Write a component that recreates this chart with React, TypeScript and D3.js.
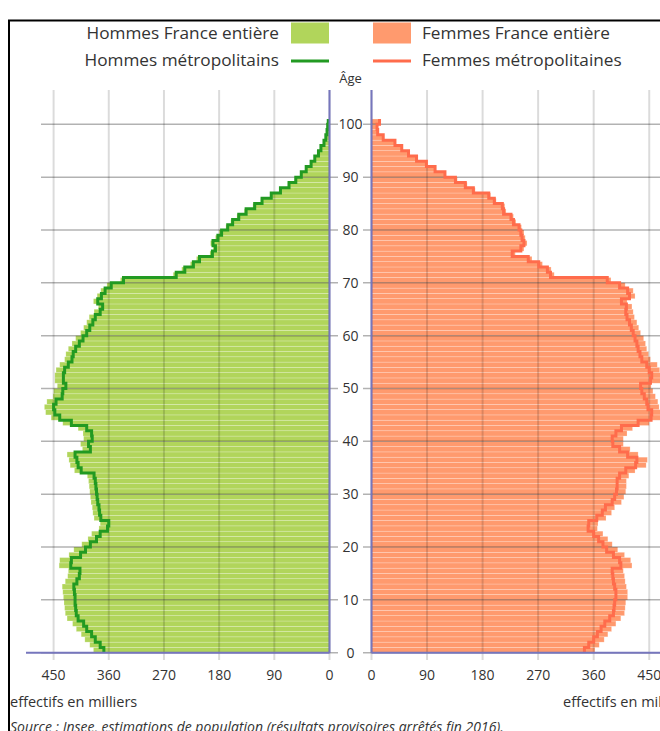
import React from "react";
import * as d3 from "d3";

// effectifs en milliers, par âge 0..100 (100 = 100 ans et plus)
const hommesMetro = [
  368, 374, 382, 388, 396, 401, 410, 413, 414, 415,
  415, 416, 417, 412, 408, 407, 422, 421, 406, 398,
  390, 380, 374, 362, 360, 373, 375, 376, 378, 379,
  380, 381, 382, 384, 405, 410, 412, 415, 390, 393,
  387, 388, 396, 421, 440, 448, 450, 446, 436, 435,
  430, 434, 434, 432, 426, 420, 418, 414, 408, 402,
  396, 391, 386, 382, 374, 370, 378, 372, 366, 356,
  336, 250, 236, 222, 212, 191, 186, 190, 182, 176,
  166, 158, 148, 136, 122, 110, 95, 80, 66, 55,
  46, 38, 30, 24, 18, 14, 9, 6, 4, 3,
  2,
];
const hommesFrance = [
  385, 391, 399, 405, 413, 419, 428, 431, 432, 433,
  434, 435, 436, 431, 427, 426, 441, 440, 425, 417,
  404, 394, 388, 376, 374, 384, 386, 387, 389, 390,
  391, 392, 393, 395, 416, 423, 425, 428, 403, 406,
  401, 402, 410, 435, 454, 463, 465, 461, 451, 450,
  444, 448, 448, 446, 440, 432, 430, 426, 420, 414,
  406, 401, 396, 392, 384, 377, 385, 379, 373, 363,
  341, 255, 241, 227, 217, 195, 190, 194, 186, 180,
  169, 161, 151, 139, 125, 112, 97, 82, 68, 57,
  47, 39, 31, 25, 19, 15, 10, 7, 5, 4,
  3,
];
const femmesMetro = [
  345, 352, 360, 366, 372, 378, 386, 392, 393, 394,
  396, 396, 394, 392, 391, 390, 404, 402, 392, 381,
  375, 368, 360, 351, 352, 365, 374, 379, 390, 394,
  397, 398, 398, 402, 412, 428, 430, 415, 402, 391,
  390, 396, 405, 432, 453, 454, 448, 446, 442, 438,
  436, 452, 454, 450, 446, 438, 435, 432, 430, 427,
  424, 421, 418, 414, 412, 413, 405, 418, 415, 402,
  382, 290, 285, 271, 254, 228, 242, 247, 244, 242,
  239, 230, 226, 214, 212, 199, 190, 165, 152, 136,
  119, 103, 89, 73, 60, 49, 38, 19, 10, 9,
  13,
];
const femmesFrance = [
  362, 369, 377, 383, 389, 396, 404, 410, 411, 412,
  415, 415, 413, 411, 410, 408, 422, 420, 410, 399,
  390, 383, 375, 366, 367, 380, 389, 394, 405, 409,
  412, 413, 413, 417, 427, 445, 447, 432, 419, 408,
  408, 414, 423, 450, 471, 472, 466, 464, 460, 456,
  453, 469, 471, 467, 463, 452, 449, 446, 444, 441,
  436, 433, 430, 426, 424, 422, 414, 427, 424, 411,
  388, 296, 291, 277, 260, 233, 247, 252, 249, 247,
  243, 234, 230, 218, 216, 202, 193, 168, 155, 139,
  120, 104, 90, 74, 61, 50, 39, 20, 11, 10,
  14,
];

const effectifTicks = [0, 90, 180, 270, 360, 450];
const ageTicks = [0, 10, 20, 30, 40, 50, 60, 70, 80, 90, 100];

const legendItems = [
  { label: "Hommes France entière", side: "left", kind: "swatch", color: "#b1d55b" },
  { label: "Femmes France entière", side: "right", kind: "swatch", color: "#ff9a6e" },
  { label: "Hommes métropolitains", side: "left", kind: "line", color: "#229a22" },
  { label: "Femmes métropolitaines", side: "right", kind: "line", color: "#ff6c4c" },
];

const FONT = "'Open Sans', sans-serif";

export default function App() {
  const xL = d3.scaleLinear().domain([0, 495]).range([329.5, 26]);
  const xR = d3.scaleLinear().domain([0, 495]).range([371.5, 677]);
  const y = d3.scaleLinear().domain([0, 100]).range([652.7, 124.3]);

  const stepL = d3
    .line<number>()
    .x((v) => xL(v))
    .y((_, i) => y(i))
    .curve(d3.curveStepBefore);
  const stepR = d3
    .line<number>()
    .x((v) => xR(v))
    .y((_, i) => y(i))
    .curve(d3.curveStepBefore);

  const axisColor = "#7676bd";
  const gridTop = 90;

  return (
    <svg
      width={660}
      height={731}
      style={{ position: "absolute", left: 0, top: 0, background: "#fff" }}
      fontFamily={FONT}
    >
      <rect x={9} y={20.5} width={700} height={800} fill="#fff" stroke="#000" strokeWidth={2} />

      {/* légende */}
      {legendItems.map((d, i) => {
        const row = i < 2 ? 0 : 1;
        const cy = row === 0 ? 33 : 60;
        const left = d.side === "left";
        const sx = left ? 291 : 373;
        return (
          <g key={d.label}>
            {d.kind === "swatch" ? (
              <rect x={sx} y={cy - 10.5} width={38} height={21} fill={d.color} />
            ) : (
              <line x1={sx} x2={sx + 38} y1={cy + 1} y2={cy + 1} stroke={d.color} strokeWidth={3} />
            )}
            <text
              x={left ? 279 : 422}
              y={cy}
              dy="0.35em"
              textAnchor={left ? "end" : "start"}
              fontSize={17.2}
              fill="#333"
            >
              {d.label}
            </text>
          </g>
        );
      })}

      <text x={350.5} y={78} dy="0.35em" textAnchor="middle" fontSize={13} fill="#333">
        Âge
      </text>

      {/* barres France entière */}
      {hommesFrance.map((v, a) => (
        <rect
          key={"h" + a}
          x={xL(v)}
          y={y(a + 1)}
          width={xL(0) - xL(v)}
          height={y(a) - y(a + 1)}
          fill="#b1d55b"
          stroke="#fff"
          strokeOpacity={0.35}
          strokeWidth={0.6}
        />
      ))}
      {femmesFrance.map((v, a) => (
        <rect
          key={"f" + a}
          x={xR(0)}
          y={y(a + 1)}
          width={xR(v) - xR(0)}
          height={y(a) - y(a + 1)}
          fill="#ff9a6e"
          stroke="#fff"
          strokeOpacity={0.35}
          strokeWidth={0.6}
        />
      ))}

      {/* grille verticale */}
      {effectifTicks.map((t) => (
        <g key={"gv" + t}>
          <line x1={xL(t)} x2={xL(t)} y1={gridTop} y2={660} stroke="#000" strokeOpacity={0.14} strokeWidth={2} />
          <line x1={xR(t)} x2={xR(t)} y1={gridTop} y2={660} stroke="#000" strokeOpacity={0.14} strokeWidth={2} />
        </g>
      ))}
      {/* grille horizontale */}
      {ageTicks.map((a) => (
        <g key={"gh" + a}>
          <line x1={41} x2={338} y1={y(a)} y2={y(a)} stroke="#000" strokeOpacity={0.3} strokeWidth={1.5} />
          <line x1={363} x2={660} y1={y(a)} y2={y(a)} stroke="#000" strokeOpacity={0.3} strokeWidth={1.5} />
          <text x={350.5} y={y(a)} dy="0.35em" textAnchor="middle" fontSize={14} fill="#333">
            {a}
          </text>
        </g>
      ))}

      {/* lignes métropole */}
      <path
        d={stepL([...hommesMetro, hommesMetro[hommesMetro.length - 1]]) || ""}
        fill="none"
        stroke="#229a22"
        strokeWidth={3}
        strokeLinejoin="miter"
      />
      <path
        d={stepR([...femmesMetro, femmesMetro[femmesMetro.length - 1]]) || ""}
        fill="none"
        stroke="#ff6c4c"
        strokeWidth={3}
        strokeLinejoin="miter"
      />

      {/* axes */}
      <line x1={xL(0)} x2={xL(0)} y1={gridTop} y2={y(0)} stroke={axisColor} strokeWidth={2} />
      <line x1={xR(0)} x2={xR(0)} y1={gridTop} y2={y(0)} stroke={axisColor} strokeWidth={2} />
      <line x1={xL(495)} x2={xL(0)} y1={y(0)} y2={y(0)} stroke={axisColor} strokeWidth={2} />
      <line x1={xR(0)} x2={xR(495)} y1={y(0)} y2={y(0)} stroke={axisColor} strokeWidth={2} />

      {effectifTicks.map((t) => (
        <g key={"tl" + t} fontSize={14} fill="#333" textAnchor="middle">
          <text x={xL(t)} y={675} dy="0.35em">{t}</text>
          <text x={xR(t)} y={675} dy="0.35em">{t}</text>
        </g>
      ))}

      <text x={10} y={702} dy="0.35em" fontSize={14.5} fill="#333">effectifs en milliers</text>
      <text x={563} y={702} dy="0.35em" fontSize={14.5} fill="#333">effectifs en milliers</text>
      <text x={10} y={727} dy="0.35em" fontSize={14} fill="#333" fontStyle="italic">
        Source : Insee, estimations de population (résultats provisoires arrêtés fin 2016).
      </text>
    </svg>
  );
}
